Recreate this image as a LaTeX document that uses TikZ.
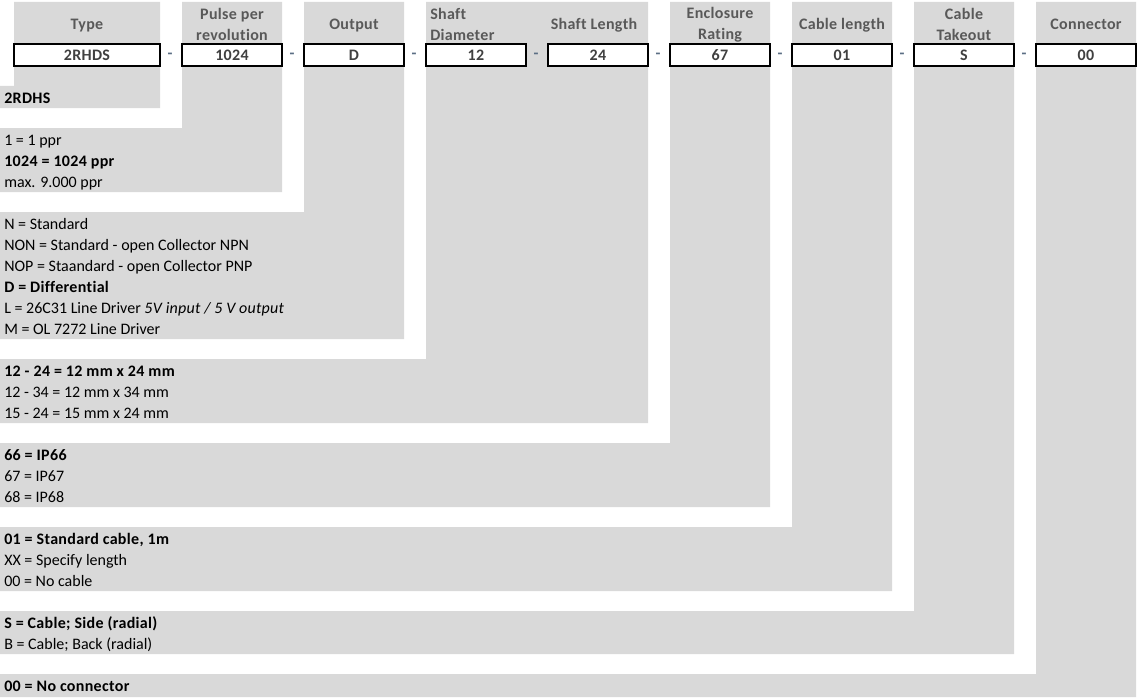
\documentclass[tikz,border=0pt]{standalone}
\usepackage{fontspec}
\setmainfont{Carlito}[Ligatures={NoCommon},BoldFeatures={LetterSpace=2},ItalicFeatures={LetterSpace=1.5}]
\usepackage{tikz}
\usetikzlibrary{positioning}
\definecolor{cellgray}{HTML}{D9D9D9}
\definecolor{hdrtext}{HTML}{595959}
\definecolor{valtext}{HTML}{404040}
\definecolor{dashc}{HTML}{5B6E84}
\tikzset{
  bg/.style={fill=cellgray,draw=none},
  hdr/.style={font=\fontsize{12}{15.75}\selectfont\bfseries,text=hdrtext,align=center,inner sep=0pt},
  val/.style={draw=black,fill=white,line width=1.1pt,minimum width=75pt,minimum height=16.5pt,inner sep=0pt,font=\fontsize{12}{14}\selectfont\bfseries,text=valtext},
  dsh/.style={font=\fontsize{12}{14}\selectfont\bfseries,text=dashc,inner sep=0pt},
  txt/.style={anchor=base west,inner sep=0pt,font=\fontsize{12}{14}\selectfont},
}
\begin{document}
\begin{tikzpicture}[x=0.75pt,y=-0.75pt]
  \useasboundingbox (0,0) rectangle (1138,699);
  % gray columns, each running into its list of codes
  \fill[bg] (14,2) -- (160,2) -- (160,108) -- (0,108) -- (0,86) -- (14,86) -- cycle;
  \fill[bg] (182,2) -- (282,2) -- (282,192) -- (0,192) -- (0,128) -- (182,128) -- cycle;
  \fill[bg] (304,2) -- (404,2) -- (404,339) -- (0,339) -- (0,212) -- (304,212) -- cycle;
  \fill[bg] (426,2) -- (648,2) -- (648,423) -- (0,423) -- (0,359) -- (426,359) -- cycle;
  \fill[bg] (670,2) -- (770,2) -- (770,507) -- (0,507) -- (0,443) -- (670,443) -- cycle;
  \fill[bg] (792,2) -- (892,2) -- (892,591) -- (0,591) -- (0,527) -- (792,527) -- cycle;
  \fill[bg] (914,2) -- (1014,2) -- (1014,654) -- (0,654) -- (0,611) -- (914,611) -- cycle;
  \fill[bg] (1036,2) -- (1136,2) -- (1136,697) -- (0,697) -- (0,674) -- (1036,674) -- cycle;

  % headers
  \node[hdr,anchor=base] (hType) at (87,30) {Type};
  \node[hdr] (hPpr) at (232,24.5) {Pulse per\\revolution};
  \node[hdr,anchor=base] (hOut) at (354,30) {Output};
  \node[hdr,anchor=west,align=left] (hDia) at (430,24.5) {Shaft\\Diameter};
  \node[hdr,anchor=base] (hLen) at (594,30) {Shaft Length};
  \node[hdr] (hEnc) at (720,24.5) {Enclosure\\Rating};
  \node[hdr,anchor=base] (hCab) at (842,30) {Cable length};
  \node[hdr] (hTak) at (964,24.5) {Cable\\Takeout};
  \node[hdr,anchor=base] (hCon) at (1086,30) {Connector};

  % order code
  \node[val,minimum width=109.5pt] (vType) at (87,55) {2RHDS};
  \node[val] (vPpr) at (232,55) {1024};
  \node[val] (vOut) at (354,55) {D};
  \node[val] (vDia) at (476,55) {12};
  \node[val] (vLen) at (598,55) {24};
  \node[val] (vEnc) at (720,55) {67};
  \node[val] (vCab) at (842,55) {01};
  \node[val] (vTak) at (964,55) {S};
  \node[val] (vCon) at (1086,55) {00};

  \node[dsh] (d1) at (170,56) {-};
  \node[dsh] (d2) at (292,56) {-};
  \node[dsh] (d3) at (414,56) {-};
  \node[dsh] (d4) at (536,56) {-};
  \node[dsh] (d5) at (658,56) {-};
  \node[dsh] (d6) at (780,56) {-};
  \node[dsh] (d7) at (902,56) {-};
  \node[dsh] (d8) at (1024,56) {-};

  % code lists
  \node[txt] (type1) at (4,103.5) {\bfseries 2RDHS};

  \node[txt] (ppr1) at (4,145.5) {1 = 1 ppr};
  \node[txt] (ppr2) at (4,166.5) {\bfseries 1024 = 1024 ppr};
  \node[txt] (ppr3) at (4,187.5) {max. 9.000 ppr};

  \node[txt] (out1) at (4,229.5) {N = Standard};
  \node[txt] (out2) at (4,250.5) {NON = Standard - open Collector NPN};
  \node[txt] (out3) at (4,271.5) {NOP = Staandard - open Collector PNP};
  \node[txt] (out4) at (4,292.5) {\bfseries D = Differential};
  \node[txt] (out5) at (4,313.5) {L = 26C31 Line Driver \textit{5V input / 5 V output}};
  \node[txt] (out6) at (4,334.5) {M = OL 7272 Line Driver};

  \node[txt] (sh1) at (4,376.5) {\bfseries 12 - 24 = 12 mm x 24 mm};
  \node[txt] (sh2) at (4,397.5) {12 - 34 = 12 mm x 34 mm};
  \node[txt] (sh3) at (4,418.5) {15 - 24 = 15 mm x 24 mm};

  \node[txt] (enc1) at (4,460.5) {\bfseries 66 = IP66};
  \node[txt] (enc2) at (4,481.5) {67 = IP67};
  \node[txt] (enc3) at (4,502.5) {68 = IP68};

  \node[txt] (cab1) at (4,544.5) {\bfseries 01 = Standard cable, 1m};
  \node[txt] (cab2) at (4,565.5) {XX = Specify length};
  \node[txt] (cab3) at (4,586.5) {00 = No cable};

  \node[txt] (tak1) at (4,628.5) {\bfseries S = Cable; Side (radial)};
  \node[txt] (tak2) at (4,649.5) {B = Cable; Back (radial)};

  \node[txt] (con1) at (4,691.5) {\bfseries 00 = No connector};
\end{tikzpicture}
\end{document}
